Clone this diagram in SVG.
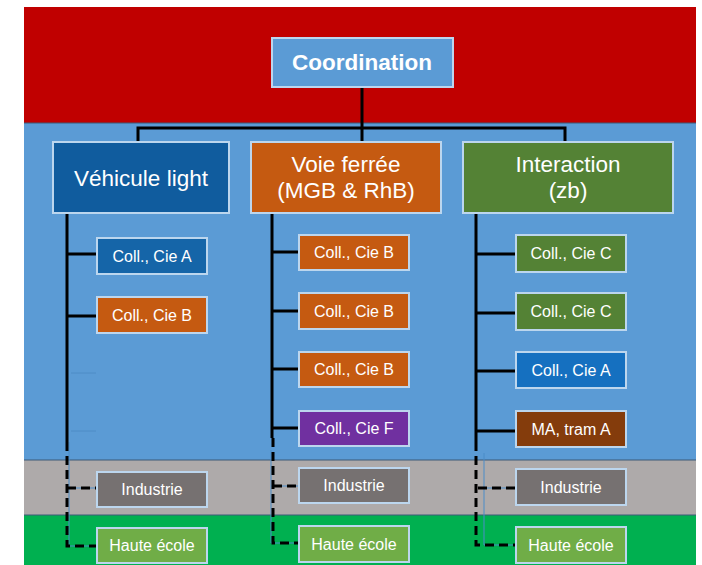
<svg xmlns="http://www.w3.org/2000/svg" width="702" height="565" viewBox="0 0 702 565">
<style>
.band{stroke:none}
.sep{stroke:#3d5a78;stroke-width:1.2}
.box{stroke:#bcd6ee;stroke-width:2}
.t1{font-family:"Liberation Sans",Arial,sans-serif;font-size:22.5px;fill:#ffffff;text-anchor:middle}
.tc{font-family:"Liberation Sans",Arial,sans-serif;font-size:22.5px;font-weight:bold;fill:#ffffff;text-anchor:middle}
.t2{font-family:"Liberation Sans",Arial,sans-serif;font-size:16px;fill:#ffffff;text-anchor:middle}
.solid{stroke:#000000;stroke-width:3;fill:none}
.dash{stroke:#000000;stroke-width:3;fill:none;stroke-dasharray:9 5}
.thin{stroke:#4a8cc8;stroke-width:1;fill:none}
.ghost{stroke:#4e8cc6;stroke-width:1;fill:none}
</style>
<rect width="702" height="565" fill="#ffffff"/>
<g id="bands">
<rect class="band" x="24" y="7" width="672" height="116" fill="#c00000"/>
<rect class="band" x="24" y="123" width="672" height="337" fill="#5b9bd5"/>
<rect class="band" x="24" y="460" width="672" height="55" fill="#aeaaaa"/>
<rect class="band" x="24" y="515" width="672" height="50" fill="#00b050"/>
<line class="sep" x1="24" y1="123" x2="696" y2="123"/>
<line class="sep" x1="24" y1="460" x2="696" y2="460"/>
<line class="sep" x1="24" y1="515" x2="696" y2="515"/>
</g>
<g id="connectors">
<path class="solid" d="M362 87 V142 M138 142 V128 H565 V142"/>
<path class="solid" d="M67 213 V442 M67 254 H97 M67 316 H97"/>
<path class="ghost" d="M71 373 H96 M71 431 H96"/>
<path class="thin" d="M69 442 V546 H97 M69 488 H97"/>
<path class="dash" d="M67 442 V546 H97 M67 488 H97"/>
<path class="solid" d="M272 213 V438 M272 252 H299 M272 311 H299 M272 369 H299 M272 428 H299"/>
<path class="thin" d="M271 450 V543 H299 M271 486 H299"/>
<path class="dash" d="M273 438 V543 H299 M273 486 H299"/>
<path class="solid" d="M476 213 V442 M476 254 H516 M476 313 H516 M476 371 H516 M476 431 H516"/>
<path class="thin" d="M484 453 V545 H516 M484 488 H516"/>
<path class="dash" d="M476 442 V545 H516 M478 488 H516"/>
</g>
<g id="coordination">
<rect class="box" x="272" y="38" width="181" height="49" fill="#5b9bd5"/>
<text class="tc" x="362" y="70">Coordination</text>
</g>
<g id="vehicule">
<rect class="box" x="53" y="142" width="176" height="71" fill="#105c9e"/>
<text class="t1" x="141" y="186">Véhicule light</text>
</g>
<g id="voie">
<rect class="box" x="251" y="142" width="190" height="71" fill="#c55a11"/>
<text class="t1" x="346" y="172">Voie ferrée</text>
<text class="t1" x="346" y="198">(MGB &amp; RhB)</text>
</g>
<g id="interaction">
<rect class="box" x="463" y="142" width="210" height="71" fill="#548235"/>
<text class="t1" x="568" y="172">Interaction</text>
<text class="t1" x="568" y="198">(zb)</text>
</g>
<g id="c1a"><rect class="box" x="97" y="238" width="110" height="36" fill="#1565a8"/><text class="t2" x="152" y="262">Coll., Cie A</text></g>
<g id="c1b"><rect class="box" x="97" y="297" width="110" height="36" fill="#c55a11"/><text class="t2" x="152" y="321">Coll., Cie B</text></g>
<g id="c1i"><rect class="box" x="97" y="472" width="110" height="35" fill="#767171"/><text class="t2" x="152" y="495">Industrie</text></g>
<g id="c1h"><rect class="box" x="97" y="528" width="110" height="35" fill="#70ad47"/><text class="t2" x="152" y="551">Haute école</text></g>
<g id="c2b1"><rect class="box" x="299" y="235" width="110" height="35" fill="#c55a11"/><text class="t2" x="354" y="258">Coll., Cie B</text></g>
<g id="c2b2"><rect class="box" x="299" y="293" width="110" height="36" fill="#c55a11"/><text class="t2" x="354" y="317">Coll., Cie B</text></g>
<g id="c2b3"><rect class="box" x="299" y="352" width="110" height="35" fill="#c55a11"/><text class="t2" x="354" y="375">Coll., Cie B</text></g>
<g id="c2f"><rect class="box" x="299" y="411" width="110" height="35" fill="#7030a0"/><text class="t2" x="354" y="434">Coll., Cie F</text></g>
<g id="c2i"><rect class="box" x="299" y="468" width="110" height="35" fill="#767171"/><text class="t2" x="354" y="491">Industrie</text></g>
<g id="c2h"><rect class="box" x="299" y="526" width="110" height="36" fill="#70ad47"/><text class="t2" x="354" y="550">Haute école</text></g>
<g id="c3c1"><rect class="box" x="516" y="235" width="110" height="37" fill="#548235"/><text class="t2" x="571" y="259">Coll., Cie C</text></g>
<g id="c3c2"><rect class="box" x="516" y="293" width="110" height="37" fill="#548235"/><text class="t2" x="571" y="317">Coll., Cie C</text></g>
<g id="c3a"><rect class="box" x="516" y="352" width="110" height="36" fill="#1570c0"/><text class="t2" x="571" y="376">Coll., Cie A</text></g>
<g id="c3m"><rect class="box" x="516" y="411" width="110" height="36" fill="#843c0c"/><text class="t2" x="571" y="435">MA, tram A</text></g>
<g id="c3i"><rect class="box" x="516" y="469" width="110" height="36" fill="#767171"/><text class="t2" x="571" y="493">Industrie</text></g>
<g id="c3h"><rect class="box" x="516" y="527" width="110" height="36" fill="#70ad47"/><text class="t2" x="571" y="551">Haute école</text></g>
</svg>
